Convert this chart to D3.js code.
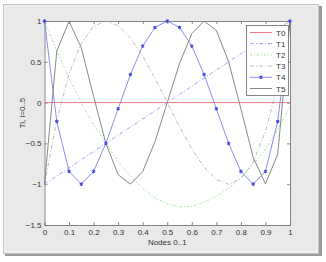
<!DOCTYPE html>
<html>
<head>
<meta charset="utf-8">
<script src="https://cdn.jsdelivr.net/npm/d3@7"></script>
<style>
    body { margin: 0; background: #fff; }
    svg { display: block; font-family: "Liberation Sans", Arial, sans-serif; }
</style>
</head>
<body>
<div id="svgContainer"></div>
<script>
//data
var nodes = [0, 0.05, 0.1, 0.15, 0.2, 0.25, 0.3, 0.35, 0.4, 0.45, 0.5, 0.55, 0.6, 0.65, 0.7, 0.75, 0.8, 0.85, 0.9, 0.95, 1];
var t0 = [0, 0, 0, 0, 0, 0, 0, 0, 0, 0, 0, 0, 0, 0, 0, 0, 0, 0, 0, 0, 0];
var t1 = [-1, -0.9, -0.8, -0.7, -0.6, -0.5, -0.4, -0.3, -0.2, -0.1, 0, 0.1, 0.2, 0.3, 0.4, 0.5, 0.6, 0.7, 0.8, 0.9, 1];
var t2 = [1, 0.63, 0.3, 0, -0.27, -0.5, -0.72, -0.9, -1.05, -1.17, -1.24, -1.28, -1.27, -1.22, -1.15, -1.05, -0.92, -0.76, -0.57, -0.33, -0.05];
var t3 = [-1, -0.216, 0.352, 0.728, 0.936, 1, 0.944, 0.792, 0.568, 0.296, 0, -0.296, -0.568, -0.792, -0.944, -1, -0.936, -0.728, -0.352, 0.216, 1];
var t4 = [1, -0.231, -0.843, -0.999, -0.843, -0.5, -0.075, 0.345, 0.693, 0.921, 1, 0.921, 0.693, 0.345, -0.075, -0.5, -0.843, -0.999, -0.843, -0.231, 1];
var t5 = [-1, 0.632, 0.997, 0.671, 0.076, -0.5, -0.884, -0.999, -0.845, -0.48, 0, 0.48, 0.845, 0.999, 0.884, 0.5, -0.076, -0.671, -0.997, -0.632, 1];
var seriesNames = ['T0', 'T1', 'T2', 'T3', 'T4', 'T5'];
var xTicks = [0, 0.1, 0.2, 0.3, 0.4, 0.5, 0.6, 0.7, 0.8, 0.9, 1];
var yTicks = [-1.5, -1, -0.5, 0, 0.5, 1];
//end data

var seriesValues = [t0, t1, t2, t3, t4, t5];

//line looks, same order as names
var seriesStyle = [
    {color: '#ec7b7b', dash: null, width: 1},
    {color: '#8c8cea', dash: '4,2,1,2', width: 0.8},
    {color: '#8ee08e', dash: '2,2,1,2', width: 0.9},
    {color: '#aaaaaa', dash: '4,2,1,2', width: 0.8},
    {color: '#8080ee', dash: null, width: 0.9},
    {color: '#7a7a7a', dash: null, width: 0.9}
];

var width = 326, height = 262;
var plot = {left: 44.5, right: 290, top: 21, bottom: 225};

var svg = d3.select('#svgContainer').append('svg')
    .attr('width', width)
    .attr('height', height);

//figure frame with a bit of shadow
svg.append('rect')
    .attr('x', 5).attr('y', 6)
    .attr('width', 317).attr('height', 250)
    .attr('fill', '#9c9c9c');
svg.append('rect')
    .attr('x', 3.5).attr('y', 4.5)
    .attr('width', 315).attr('height', 249)
    .attr('fill', '#e9e9e9')
    .attr('stroke', '#c4c4c4');
svg.append('rect')
    .attr('x', 5).attr('y', 6)
    .attr('width', 312).attr('height', 246)
    .attr('fill', 'none')
    .attr('stroke', '#f4f4f4');

//scales
var x = d3.scaleLinear()
    .domain([0, 1])
    .range([plot.left, plot.right]);

var y = d3.scaleLinear()
    .domain([-1.5, 1])
    .range([plot.bottom, plot.top]);

//white axes area
svg.append('rect')
    .attr('x', plot.left).attr('y', plot.top)
    .attr('width', plot.right - plot.left)
    .attr('height', plot.bottom - plot.top)
    .attr('fill', '#fff');

var tickFormat = function(d){ return d3.format('')(d); };

//axes, ticks pointing in like matlab
var gx = svg.append('g')
    .attr('transform', 'translate(0,' + plot.bottom + ')')
    .call(d3.axisBottom(x).tickValues(xTicks).tickSizeInner(-3).tickSizeOuter(0).tickPadding(4).tickFormat(tickFormat));
var gxTop = svg.append('g')
    .attr('transform', 'translate(0,' + plot.top + ')')
    .call(d3.axisTop(x).tickValues(xTicks).tickSizeInner(-3).tickSizeOuter(0).tickFormat(''));
var gy = svg.append('g')
    .attr('transform', 'translate(' + plot.left + ',0)')
    .call(d3.axisLeft(y).tickValues(yTicks).tickSizeInner(-3).tickSizeOuter(0).tickPadding(3).tickFormat(tickFormat));
var gyRight = svg.append('g')
    .attr('transform', 'translate(' + plot.right + ',0)')
    .call(d3.axisRight(y).tickValues(yTicks).tickSizeInner(-3).tickSizeOuter(0).tickFormat(''));

svg.selectAll('.domain').attr('stroke', '#6a6a6a').attr('stroke-width', 0.8);
svg.selectAll('.tick line').attr('stroke', '#6a6a6a').attr('stroke-width', 0.8);
svg.selectAll('.tick text')
    .attr('fill', '#333')
    .style('font-size', '8px')
    .style('font-family', '"Liberation Sans", Arial, sans-serif');

//axis labels
svg.append('text')
    .attr('x', (plot.left + plot.right) / 2)
    .attr('y', 245)
    .attr('text-anchor', 'middle')
    .attr('fill', '#333')
    .style('font-size', '8px')
    .text('Nodes 0..1');

svg.append('text')
    .attr('transform', 'translate(25,113) rotate(-90)')
    .attr('text-anchor', 'middle')
    .attr('fill', '#333')
    .style('font-size', '8px')
    .text('Ti, i=0..5');

//lines
var lineFunc = d3.line()
    .x(function(d, i){ return x(nodes[i]); })
    .y(function(d){ return y(d); });

var gLines = svg.append('g').attr('class', 'lines');

gLines.selectAll('path')
    .data(seriesValues)
    .enter().append('path')
    .attr('d', lineFunc)
    .attr('fill', 'none')
    .attr('stroke', function(d, i){ return seriesStyle[i].color; })
    .attr('stroke-width', function(d, i){ return seriesStyle[i].width; })
    .attr('stroke-dasharray', function(d, i){ return seriesStyle[i].dash; });

//star markers on T4
var star = d3.symbol().type(d3.symbolAsterisk).size(9);
gLines.selectAll('.marker')
    .data(t4)
    .enter().append('path')
    .attr('class', 'marker')
    .attr('transform', function(d, i){ return 'translate(' + x(nodes[i]) + ',' + y(d) + ')'; })
    .attr('d', star)
    .attr('fill', 'none')
    .attr('stroke', '#4646e2')
    .attr('stroke-width', 1.1);

//legend
var legend = {x: 246.5, y: 25.5, w: 42, h: 70, row: 11.2};
var gLegend = svg.append('g').attr('class', 'legend');

gLegend.append('rect')
    .attr('x', legend.x).attr('y', legend.y)
    .attr('width', legend.w).attr('height', legend.h)
    .attr('fill', '#fff')
    .attr('stroke', '#6a6a6a')
    .attr('stroke-width', 0.8);

var rows = gLegend.selectAll('.row')
    .data(seriesNames)
    .enter().append('g')
    .attr('class', 'row')
    .attr('transform', function(d, i){ return 'translate(0,' + (legend.y + 7 + i * legend.row) + ')'; });

rows.append('line')
    .attr('x1', 250).attr('x2', 272)
    .attr('y1', 0).attr('y2', 0)
    .attr('stroke', function(d, i){ return seriesStyle[i].color; })
    .attr('stroke-width', function(d, i){ return seriesStyle[i].width; })
    .attr('stroke-dasharray', function(d, i){ return seriesStyle[i].dash; });

rows.filter(function(d){ return d === 'T4'; })
    .append('path')
    .attr('transform', 'translate(261,0)')
    .attr('d', star)
    .attr('fill', 'none')
    .attr('stroke', '#4646e2')
    .attr('stroke-width', 1.1);

rows.append('text')
    .attr('x', 276)
    .attr('y', 3)
    .attr('fill', '#333')
    .style('font-size', '8px')
    .text(function(d){ return d; });
</script>
</body>
</html>
